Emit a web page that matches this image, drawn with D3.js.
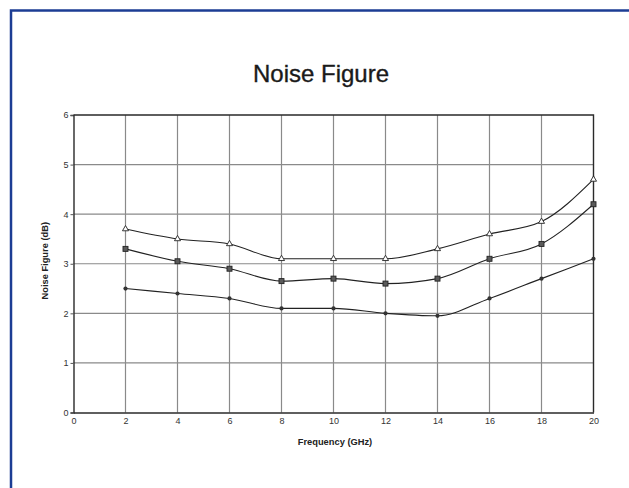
<!DOCTYPE html>
<html>
<head>
<meta charset="utf-8">
<script src="https://cdn.jsdelivr.net/npm/d3@7"></script>
<style>
  html, body { margin: 0; padding: 0; background: #fff; }
  svg { display: block; font-family: "Liberation Sans", Arial, sans-serif; }
</style>
</head>
<body>
<svg id="chart" width="629" height="488"></svg>
<script>
// Noise figure vs. frequency, three units
const frequencies = [2, 4, 6, 8, 10, 12, 14, 16, 18, 20];
const nfTriangle = [3.7, 3.5, 3.4, 3.1, 3.1, 3.1, 3.3, 3.6, 3.85, 4.7];
const nfSquare   = [3.3, 3.05, 2.9, 2.65, 2.7, 2.6, 2.7, 3.1, 3.4, 4.2];
const nfDot      = [2.5, 2.4, 2.3, 2.1, 2.1, 2.0, 1.95, 2.3, 2.7, 3.1];
const xTicks = [0, 2, 4, 6, 8, 10, 12, 14, 16, 18, 20];
const yTicks = [0, 1, 2, 3, 4, 5, 6];

const svg = d3.select("#chart");

// Blue frame (runs off the right and bottom edges)
svg.append("rect")
  .attr("x", 11).attr("y", 10.5)
  .attr("width", 700).attr("height", 600)
  .attr("fill", "none")
  .attr("stroke", "#1c3d94")
  .attr("stroke-width", 2.5);

svg.append("text")
  .attr("x", 321).attr("y", 82)
  .attr("text-anchor", "middle")
  .attr("font-size", 24)
  .attr("fill", "#1a1a1a")
  .attr("stroke", "#1a1a1a").attr("stroke-width", 0.35)
  .text("Noise Figure");

const plotLeft = 73.5, plotRight = 593.5, plotTop = 115, plotBottom = 412.5;
const x = d3.scaleLinear().domain([0, 20]).range([plotLeft, plotRight]);
const y = d3.scaleLinear().domain([0, 6]).range([plotBottom, plotTop]);

// Grid
const grid = svg.append("g").attr("stroke", "#8a8a8a").attr("stroke-width", 1.2);
grid.selectAll("line.v").data(xTicks.slice(1, -1)).join("line")
  .attr("x1", d => x(d)).attr("x2", d => x(d))
  .attr("y1", plotTop).attr("y2", plotBottom);
grid.selectAll("line.h").data(yTicks.slice(1, -1)).join("line")
  .attr("x1", plotLeft).attr("x2", plotRight)
  .attr("y1", d => y(d)).attr("y2", d => y(d));

// Axes
const xAxis = svg.append("g")
  .attr("transform", `translate(0,${plotBottom})`)
  .call(d3.axisBottom(x).tickValues(xTicks).tickSize(0).tickPadding(5).tickFormat(d3.format("d")));
const yAxis = svg.append("g")
  .attr("transform", `translate(${plotLeft},0)`)
  .call(d3.axisLeft(y).tickValues(yTicks).tickSize(3).tickPadding(2).tickFormat(d3.format("d")));
[xAxis, yAxis].forEach(a => {
  a.select(".domain").attr("stroke", "#2a2a2a").attr("stroke-width", 1.4);
  a.selectAll(".tick line").attr("stroke", "#555");
  a.selectAll(".tick text").attr("font-size", 9).attr("fill", "#333")
    .attr("font-family", "'Liberation Sans', Arial, sans-serif");
});

// Plot frame top and right edges
svg.append("path")
  .attr("d", `M${plotLeft},${plotTop}H${plotRight}V${plotBottom}`)
  .attr("fill", "none").attr("stroke", "#2a2a2a").attr("stroke-width", 1.4);

// Axis titles
svg.append("text")
  .attr("x", 335).attr("y", 445)
  .attr("text-anchor", "middle")
  .attr("font-size", 9.3).attr("font-weight", "bold").attr("fill", "#222")
  .text("Frequency (GHz)");
svg.append("text")
  .attr("transform", `translate(48,${(plotTop + plotBottom) / 2 - 3}) rotate(-90)`)
  .attr("text-anchor", "middle")
  .attr("font-size", 9.3).attr("font-weight", "bold").attr("fill", "#222")
  .text("Noise Figure (dB)");

// Curves
const line = d3.line()
  .x(d => x(d[0])).y(d => y(d[1]))
  .curve(d3.curveMonotoneX);

const series = [
  { values: nfTriangle, marker: "triangle" },
  { values: nfSquare, marker: "square" },
  { values: nfDot, marker: "circle" }
];

series.forEach(s => {
  const pts = frequencies.map((f, i) => [f, s.values[i]]);
  svg.append("path")
    .datum(pts)
    .attr("d", line)
    .attr("fill", "none")
    .attr("stroke", "#222")
    .attr("stroke-width", 1.1);

  const g = svg.append("g");
  if (s.marker === "triangle") {
    g.selectAll("path").data(pts).join("path")
      .attr("d", d3.symbol(d3.symbolTriangle, 16))
      .attr("transform", d => `translate(${x(d[0])},${y(d[1])})`)
      .attr("fill", "#fff").attr("stroke", "#222").attr("stroke-width", 0.9);
  } else if (s.marker === "square") {
    g.selectAll("rect").data(pts).join("rect")
      .attr("x", d => x(d[0]) - 2.5).attr("y", d => y(d[1]) - 2.5)
      .attr("width", 5).attr("height", 5)
      .attr("fill", "#5a5a5a").attr("stroke", "#222").attr("stroke-width", 0.9);
  } else {
    g.selectAll("circle").data(pts).join("circle")
      .attr("cx", d => x(d[0])).attr("cy", d => y(d[1]))
      .attr("r", 2.1)
      .attr("fill", "#333");
  }
});
</script>
</body>
</html>
